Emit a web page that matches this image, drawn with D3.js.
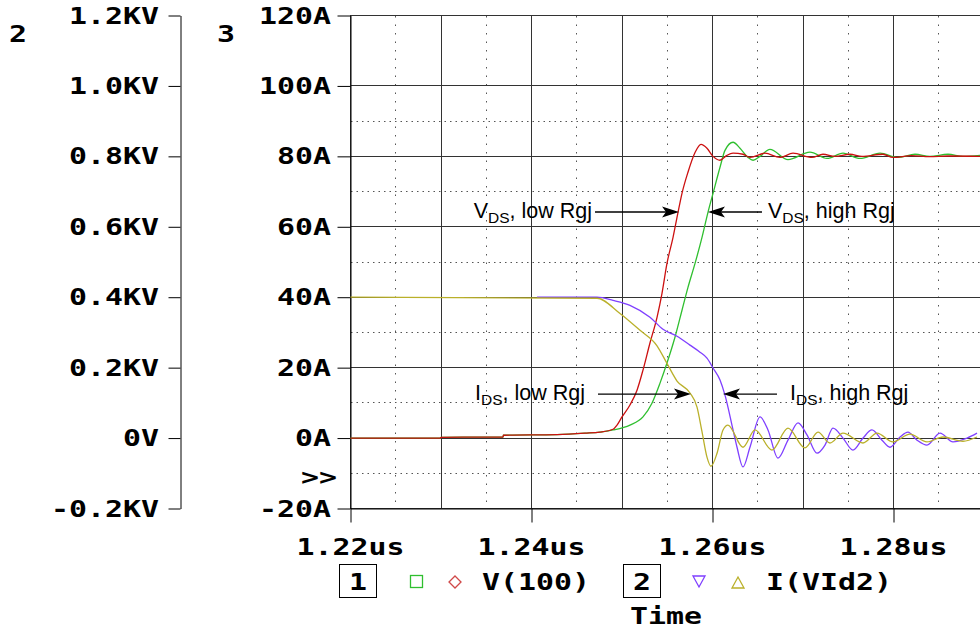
<!DOCTYPE html>
<html>
<head>
<meta charset="utf-8">
<script src="https://cdn.jsdelivr.net/npm/d3@7"></script>
<style>
  html, body { margin: 0; padding: 0; background: #fff; }
  .mono { font-family: "DejaVu Sans Mono", monospace; font-weight: bold; font-size: 23px; fill: #000; }
  .ann { font-family: "Liberation Sans", Arial, sans-serif; font-size: 21.5px; fill: #000; }
</style>
</head>
<body>
<script>
// ---------------- DATA ----------------
const timeTicks = [1.22, 1.24, 1.26, 1.28];
const timeTickLabels = ["1.22us", "1.24us", "1.26us", "1.28us"];
const gridTimes = [1.22, 1.23, 1.24, 1.25, 1.26, 1.27, 1.28, 1.29];
const dotTimes = [1.225, 1.235, 1.245, 1.255, 1.265, 1.275, 1.285];

const voltTicks = [-200, 0, 200, 400, 600, 800, 1000, 1200];
const voltTickLabels = ["-0.2KV", "0V", "0.2KV", "0.4KV", "0.6KV", "0.8KV", "1.0KV", "1.2KV"];
const currTicks = [-20, 0, 20, 40, 60, 80, 100, 120];
const currTickLabels = ["-20A", "0A", "20A", "40A", "60A", "80A", "100A", "120A"];
const dotCurr = [-10, 10, 30, 50, 70, 90];

// V(100), low Rgj (red)  [time us, volts]
const vdsLowRgj = [
  [1.22000, 0], [1.22989, 0], [1.23000, 2], [1.23685, 3], [1.23690, 8], [1.24282, 10],
  [1.24591, 14], [1.24757, 17], [1.24901, 25], [1.24945, 37], [1.25000, 60], [1.25088, 94],
  [1.25166, 136], [1.25232, 193], [1.25309, 270], [1.25387, 343], [1.25442, 411], [1.25497, 496],
  [1.25564, 570], [1.25619, 641], [1.25663, 695], [1.25729, 755], [1.25807, 811], [1.25873, 834],
  [1.25939, 823], [1.26006, 800], [1.26083, 789], [1.26160, 803], [1.26227, 809], [1.26337, 806],
  [1.26414, 797], [1.26580, 809], [1.26746, 797], [1.26890, 809], [1.27099, 797], [1.27221, 806],
  [1.27354, 800], [1.27519, 806], [1.27652, 800], [1.27884, 806], [1.27994, 797], [1.28200, 802],
  [1.28400, 799], [1.28600, 801], [1.28956, 800]
];
// V(100), high Rgj (green)
const vdsHighRgj = [
  [1.22000, 0], [1.22989, 0], [1.23000, 2], [1.23685, 3], [1.23690, 8], [1.24282, 10],
  [1.24591, 14], [1.24757, 17], [1.24901, 23], [1.25088, 37], [1.25232, 60], [1.25331, 99],
  [1.25420, 156], [1.25497, 213], [1.25586, 287], [1.25663, 363], [1.25729, 428], [1.25807, 496],
  [1.25884, 570], [1.25950, 641], [1.26006, 695], [1.26083, 769], [1.26138, 817], [1.26227, 840],
  [1.26304, 823], [1.26392, 797], [1.26448, 789], [1.26525, 800], [1.26635, 820], [1.26834, 791],
  [1.27077, 812], [1.27265, 794], [1.27442, 809], [1.27630, 794], [1.27851, 809], [1.28050, 797],
  [1.28238, 806], [1.28403, 800], [1.28602, 806], [1.28768, 800], [1.28956, 803]
];
// I(VId2), low Rgj (yellow)  [time us, amps]
const idsLowRgj = [
  [1.22000, 40], [1.24724, 39.7], [1.24978, 35.4], [1.25199, 30.6], [1.25387, 26.2], [1.25497, 21.2],
  [1.25608, 16.2], [1.25751, 12.8], [1.25829, 8.8], [1.25884, 1.8], [1.25939, -5.4], [1.25983, -8.0],
  [1.26050, -4.3], [1.26116, 2.3], [1.26171, 3.7], [1.26337, -2.6], [1.26470, 2.3], [1.26657, -3.4],
  [1.26834, 2.8], [1.27022, -2.8], [1.27166, 1.7], [1.27298, -1.4], [1.27442, 1.4], [1.27663, -1.4],
  [1.27818, 1.4], [1.27994, -1.1], [1.28182, 1.1], [1.28370, -1.1], [1.28547, 0.3], [1.28768, -0.9],
  [1.28923, 0.3]
];
// I(VId2), high Rgj (purple)
const idsHighRgj = [
  [1.24061, 40], [1.24724, 40], [1.24901, 39.1], [1.25088, 37.7], [1.25309, 34.3], [1.25453, 30.9],
  [1.25608, 28.9], [1.25751, 26.4], [1.25862, 24.4], [1.25939, 22.7], [1.26006, 19.9], [1.26083, 16.5],
  [1.26138, 12.2], [1.26227, 2.3], [1.26271, -2.6], [1.26337, -8.2], [1.26414, -2.6], [1.26525, 6.0],
  [1.26613, 2.3], [1.26724, -5.7], [1.26834, -0.6], [1.26945, 4.3], [1.27044, 0.9], [1.27155, -4.3],
  [1.27243, -2.0], [1.27331, 2.8], [1.27442, 0], [1.27552, -3.4], [1.27663, 0], [1.27762, 2.3],
  [1.27873, -0.6], [1.27961, -2.6], [1.28072, 0.3], [1.28160, 1.7], [1.28260, -0.6], [1.28370, -2.0],
  [1.28514, 1.4], [1.28657, -1.1], [1.28812, 0], [1.28923, 1.4]
];

// annotation arrows: tip in data coords (time, amps-scale)
const annotations = [
  { main: "V", sub: "DS", rest: ", low Rgj",  t: 1.25630, a: 64.2, side: "left",  len: 84, gap: 3,  dy: 6 },
  { main: "V", sub: "DS", rest: ", high Rgj", t: 1.25950, a: 64.2, side: "right", len: 54, gap: 6,  dy: 6 },
  { main: "I", sub: "DS", rest: ", low Rgj",  t: 1.25762, a: 12.5, side: "left",  len: 93, gap: 13, dy: 6 },
  { main: "I", sub: "DS", rest: ", high Rgj", t: 1.26116, a: 12.5, side: "right", len: 54, gap: 13, dy: 6 }
];

const colors = { red: "#cc1010", green: "#2fbf2f", purple: "#7f3fff", yellow: "#bab02a" };

// ---------------- CHART ----------------
const W = 980, H = 629;
const svg = d3.select("body").append("svg").attr("width", W).attr("height", H);

const x = d3.scaleLinear().domain([1.22, 1.30]).range([350.5, 1074.5]);
const yI = d3.scaleLinear().domain([-20, 120]).range([508.5, 15.5]);
const yV = d3.scaleLinear().domain([-200, 1200]).range([508.5, 15.5]);

const crisp = v => Math.round(v - 0.5) + 0.5;

svg.append("defs").append("clipPath").attr("id", "plotclip")
  .append("rect").attr("x", 350).attr("y", 14).attr("width", 630).attr("height", 496);

const grid = svg.append("g").attr("clip-path", "url(#plotclip)");
// dotted grid
grid.selectAll(".hdot").data(dotCurr).join("line")
  .attr("x1", 351).attr("x2", W).attr("y1", d => crisp(yI(d))).attr("y2", d => crisp(yI(d)))
  .attr("stroke", "#555").attr("stroke-width", 1).attr("stroke-dasharray", "1.5,4");
grid.selectAll(".vdot").data(dotTimes).join("line")
  .attr("x1", d => crisp(x(d))).attr("x2", d => crisp(x(d))).attr("y1", 16).attr("y2", 508)
  .attr("stroke", "#555").attr("stroke-width", 1).attr("stroke-dasharray", "1.5,7");
// solid grid
grid.selectAll(".hgrid").data(currTicks).join("line")
  .attr("x1", 350).attr("x2", W).attr("y1", d => crisp(yI(d))).attr("y2", d => crisp(yI(d)))
  .attr("stroke", "#333").attr("stroke-width", 1);
grid.selectAll(".vgrid").data(gridTimes).join("line")
  .attr("x1", d => crisp(x(d))).attr("x2", d => crisp(x(d))).attr("y1", 15.5).attr("y2", 508.5)
  .attr("stroke", "#333").attr("stroke-width", 1);

// axes
const axV = svg.append("g").attr("transform", "translate(180.5,0)")
  .call(d3.axisLeft(yV).tickValues(voltTicks).tickSize(12).tickSizeOuter(0).tickFormat(""));
const axI = svg.append("g").attr("transform", "translate(350.5,0)")
  .call(d3.axisLeft(yI).tickValues(currTicks).tickSize(13).tickSizeOuter(0).tickFormat(""));
const axX = svg.append("g").attr("transform", "translate(0,508.5)")
  .call(d3.axisBottom(x).tickValues(timeTicks).tickSize(14).tickSizeOuter(0).tickFormat(""));
[axV, axI, axX].forEach(a => { a.selectAll("path,line").attr("stroke", "#000").attr("stroke-width", 1); });

function mono(xp, yp, str, anchor) {
  return svg.append("text").attr("class", "mono")
    .attr("transform", `translate(${xp},${yp}) scale(1.3,1)`)
    .attr("text-anchor", anchor || "start").text(str);
}

voltTicks.forEach((v, i) => mono(159, yV(v) + 8, voltTickLabels[i], "end"));
currTicks.forEach((v, i) => mono(331, yI(v) + 8, currTickLabels[i], "end"));
timeTicks.forEach((t, i) => mono(x(t), 555, timeTickLabels[i], "middle"));
mono(9, 42, "2");
mono(217, 42, "3");
mono(337, 485, ">>", "end");

// curves
const clipG = svg.append("g").attr("clip-path", "url(#plotclip)");
const lineV = d3.line().x(d => x(d[0])).y(d => yV(d[1])).curve(d3.curveMonotoneX);
const lineI = d3.line().x(d => x(d[0])).y(d => yI(d[1])).curve(d3.curveMonotoneX);
const series = [
  { data: vdsHighRgj, gen: lineV, color: colors.green },
  { data: vdsLowRgj, gen: lineV, color: colors.red },
  { data: idsHighRgj, gen: lineI, color: colors.purple },
  { data: idsLowRgj, gen: lineI, color: colors.yellow }
];
series.forEach(s => {
  clipG.append("path").datum(s.data).attr("d", s.gen)
    .attr("fill", "none").attr("stroke", s.color).attr("stroke-width", 1.3)
    .attr("stroke-linejoin", "round");
});

// annotations
annotations.forEach(a => {
  const tx = x(a.t), ty = yI(a.a);
  const dir = a.side === "left" ? -1 : 1;
  const endX = tx + dir * a.len;
  svg.append("line").attr("x1", tx + dir * 10).attr("x2", endX).attr("y1", ty).attr("y2", ty)
    .attr("stroke", "#000").attr("stroke-width", 1.3);
  svg.append("path")
    .attr("d", `M${tx},${ty} L${tx + dir * 17},${ty - 5.5} L${tx + dir * 13},${ty} L${tx + dir * 17},${ty + 5.5} Z`)
    .attr("fill", "#000");
  const t = svg.append("text").attr("class", "ann")
    .attr("x", endX + dir * a.gap).attr("y", ty + a.dy)
    .attr("text-anchor", a.side === "left" ? "end" : "start");
  t.append("tspan").text(a.main);
  t.append("tspan").attr("dy", 5).attr("font-size", 15.5).text(a.sub);
  t.append("tspan").attr("dy", -5).text(a.rest);
});

// legend
svg.append("rect").attr("x", 339.5).attr("y", 564.5).attr("width", 37).attr("height", 33)
  .attr("fill", "none").attr("stroke", "#000");
mono(358, 590, "1", "middle");
svg.append("rect").attr("x", 410.5).attr("y", 575.5).attr("width", 12).attr("height", 12)
  .attr("fill", "none").attr("stroke", colors.green).attr("stroke-width", 1.3);
svg.append("path").attr("d", "M455,576 L461,582 L455,588 L449,582 Z")
  .attr("fill", "none").attr("stroke", "#d04848").attr("stroke-width", 1.3);
mono(482, 590, "V(100)");
svg.append("rect").attr("x", 623.5).attr("y", 564.5).attr("width", 37).attr("height", 33)
  .attr("fill", "none").attr("stroke", "#000");
mono(642, 590, "2", "middle");
svg.append("path").attr("d", "M693,576 L705,576 L699,587 Z")
  .attr("fill", "none").attr("stroke", colors.purple).attr("stroke-width", 1.3);
svg.append("path").attr("d", "M732,588 L744,588 L738,577 Z")
  .attr("fill", "none").attr("stroke", colors.yellow).attr("stroke-width", 1.3);
mono(766, 590, "I(VId2)");
mono(666, 624, "Time", "middle");
</script>
</body>
</html>
